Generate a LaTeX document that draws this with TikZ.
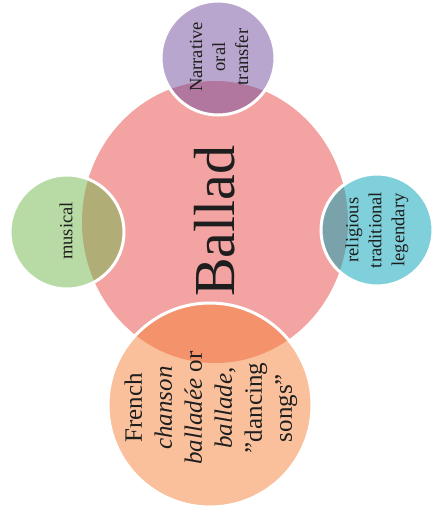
\documentclass[tikz,border=0pt]{standalone}
\usepackage{fontspec}
\setmainfont{Liberation Serif}
\definecolor{cpink}{RGB}{231,73,69}
\definecolor{cpurple}{RGB}{115,77,157}
\definecolor{cgreen}{RGB}{113,183,75}
\definecolor{ccyan}{RGB}{0,161,181}
\definecolor{corange}{RGB}{243,129,55}
\definecolor{ctext}{RGB}{30,30,30}
\begin{document}
\begin{tikzpicture}[x=1pt,y=-1pt,
  bubble/.style={draw=white, line width=3pt, fill opacity=0.5, draw opacity=1},
  lbl/.style={rotate=90, align=center, text=ctext, inner sep=0pt},
  small/.style={font=\fontsize{18.5}{23}\selectfont},
  big/.style={font=\fontsize{25}{30}\selectfont}]
\useasboundingbox (0,0) rectangle (433,515);
\fill[cpink, fill opacity=0.5] (215,222) ellipse [x radius=133pt, y radius=141pt];
\path[bubble, fill=cpurple] (218,58) circle [radius=57pt];
\path[bubble, fill=cgreen] (67,232) circle [radius=57pt];
\path[bubble, fill=ccyan] (377,230) circle [radius=56pt];
\path[bubble, fill=corange] (210,405) circle [radius=102pt];
\node[lbl, font=\fontsize{58}{60}\selectfont] (ballad) at (215,221) {Ballad};
\node[lbl, small] (narr) at (219,57) {Narrative\\oral\\transfer};
\node[lbl, small] (mus) at (66,231) {musical};
\node[lbl, small] (rel) at (377,230) {religious\\traditional\\legendary};
\node[lbl, big] (fr) at (211,408) {French\\\textit{chanson}\\\textit{balladée} or\\\textit{ballade,}\\\symbol{34}dancing\\songs\symbol{34}};
\end{tikzpicture}
\end{document}
